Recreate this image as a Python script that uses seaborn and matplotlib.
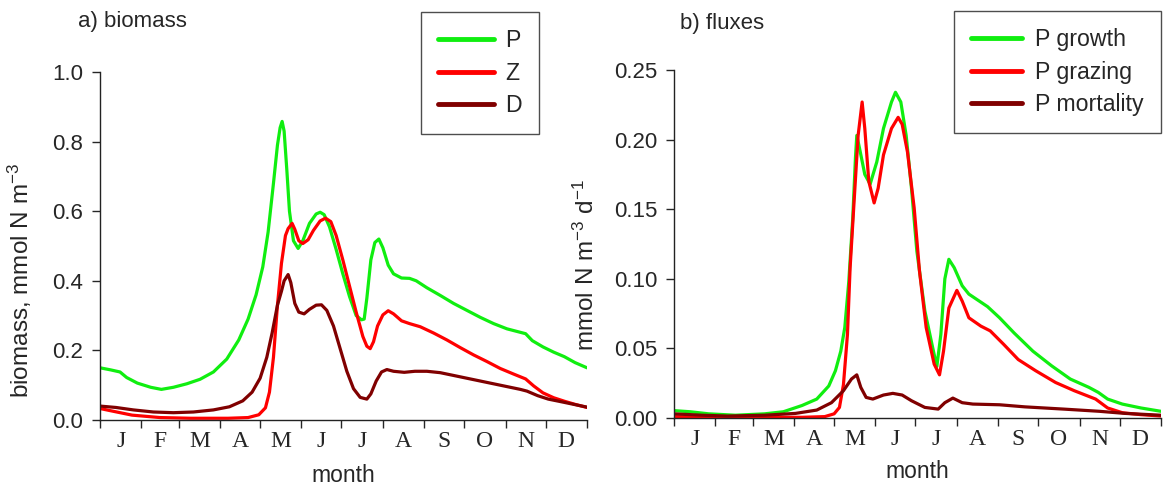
import numpy as np
import pandas as pd
import matplotlib
matplotlib.use("Agg")
import matplotlib.pyplot as plt
import seaborn as sns

# ---- data (day of year, value) ----
month_labels = ["J", "F", "M", "A", "M", "J", "J", "A", "S", "O", "N", "D"]
month_edges = [0, 31, 59, 90, 120, 151, 181, 212, 243, 273, 304, 334, 365]

# a) biomass, mmol N m-3
p_day = [0, 8, 15, 20, 28, 38, 46, 55, 65, 75, 85, 95, 104, 111, 117, 122, 126, 130, 133, 135,
         136.5, 138, 140, 142, 145, 148.5, 152, 157, 162, 165, 168, 172, 177, 182, 187, 192, 196, 198,
         200, 203, 206, 209, 212, 216, 220, 226, 232, 237, 245, 255, 265, 275, 285, 295, 305, 312,
         319, 324, 332, 340, 348, 356, 365]
p_val = [0.150, 0.144, 0.138, 0.122, 0.106, 0.094, 0.088, 0.094, 0.104, 0.117, 0.138, 0.175, 0.230,
         0.290, 0.360, 0.440, 0.540, 0.680, 0.790, 0.840, 0.858, 0.830, 0.720, 0.600, 0.515, 0.493,
         0.515, 0.565, 0.592, 0.597, 0.590, 0.555, 0.490, 0.420, 0.355, 0.300, 0.288, 0.290, 0.350,
         0.460, 0.510, 0.520, 0.495, 0.445, 0.420, 0.408, 0.407, 0.400, 0.380, 0.358, 0.335, 0.315,
         0.295, 0.277, 0.262, 0.255, 0.248, 0.228, 0.210, 0.195, 0.182, 0.165, 0.150]

z_day = [0, 10, 24, 45, 68, 96, 111, 119, 124, 127, 130, 133, 136, 139, 141, 144, 146, 149, 152,
         156, 160, 165, 169, 173, 177, 182, 187, 192, 197, 200, 202.5, 205, 208, 212, 216, 220, 226,
         232, 240, 250, 260, 270, 280, 290, 300, 310, 319, 325, 332, 340, 348, 356, 365]
z_val = [0.033, 0.025, 0.014, 0.007, 0.005, 0.005, 0.007, 0.015, 0.035, 0.080, 0.180, 0.330, 0.450,
         0.530, 0.550, 0.565, 0.548, 0.515, 0.507, 0.518, 0.545, 0.572, 0.580, 0.570, 0.530, 0.460,
         0.385, 0.310, 0.240, 0.212, 0.205, 0.225, 0.270, 0.302, 0.314, 0.305, 0.285, 0.277, 0.268,
         0.250, 0.230, 0.208, 0.187, 0.168, 0.148, 0.132, 0.118, 0.098, 0.078, 0.064, 0.054, 0.045,
         0.036]

d_day = [0, 12, 25, 40, 55, 70, 85, 97, 107, 114, 120, 125, 129, 133, 136, 138, 141, 143, 146, 149,
         153, 157, 162, 166, 170, 175, 180, 185, 190, 195, 200, 203, 207, 211, 215, 220, 228, 236,
         245, 255, 265, 275, 285, 295, 305, 315, 320, 328, 336, 345, 355, 365]
d_val = [0.040, 0.036, 0.029, 0.023, 0.021, 0.023, 0.029, 0.038, 0.055, 0.080, 0.120, 0.180, 0.250,
         0.330, 0.370, 0.400, 0.418, 0.395, 0.335, 0.310, 0.305, 0.318, 0.330, 0.331, 0.315, 0.270,
         0.205, 0.140, 0.090, 0.065, 0.060, 0.075, 0.112, 0.138, 0.145, 0.140, 0.137, 0.140, 0.140,
         0.136, 0.128, 0.120, 0.112, 0.104, 0.096, 0.088, 0.083, 0.070, 0.060, 0.053, 0.045, 0.037]

# b) fluxes, mmol N m-3 d-1
gr_day = [0, 12, 26, 46, 68, 82, 96, 107, 116, 121, 125, 128, 131, 134, 136, 137, 139, 143, 147,
          152, 157, 163, 166, 170, 174, 178, 182, 188, 194, 197, 200, 203, 206, 210, 216, 221, 228,
          235, 244, 255, 269, 283, 297, 311, 318, 325, 336, 350, 365]
gr_val = [0.0053, 0.0045, 0.0030, 0.0020, 0.0030, 0.0045, 0.0090, 0.0136, 0.0230, 0.0340, 0.0480,
          0.0650, 0.0980, 0.1440, 0.1870, 0.2030, 0.1940, 0.1750, 0.1680, 0.1840, 0.2080, 0.2270,
          0.2340, 0.2270, 0.2030, 0.1650, 0.1200, 0.0770, 0.0500, 0.0370, 0.0600, 0.1000, 0.1140,
          0.1080, 0.0950, 0.0890, 0.0845, 0.0800, 0.0720, 0.0610, 0.0480, 0.0375, 0.0280, 0.0220,
          0.0184, 0.0136, 0.0100, 0.0072, 0.0048]

gz_day = [0, 40, 96, 113, 120, 124, 127, 130, 132, 135, 138, 141, 143, 146, 150, 153, 157, 163, 168,
          171, 175, 180, 184, 189, 195, 199, 202, 206, 212, 216, 221, 230, 237, 247, 258, 271, 286,
          300, 316, 325, 336, 350, 365]
gz_val = [0.0010, 0.0005, 0.0005, 0.0010, 0.0030, 0.0076, 0.0240, 0.0600, 0.1080, 0.1560, 0.2030,
          0.2270, 0.2080, 0.1700, 0.1545, 0.1650, 0.1890, 0.2080, 0.2160, 0.2110, 0.1910, 0.1510,
          0.1055, 0.0650, 0.0387, 0.0310, 0.0480, 0.0790, 0.0917, 0.0840, 0.0720, 0.0660, 0.0626,
          0.0530, 0.0420, 0.0340, 0.0255, 0.0196, 0.0136, 0.0072, 0.0038, 0.0024, 0.0014]

mo_day = [0, 21, 40, 68, 91, 107, 118, 127, 133, 137, 140, 144, 149, 157, 164, 171, 178, 188, 198,
          203, 209, 216, 224, 244, 263, 292, 319, 338, 365]
mo_val = [0.0030, 0.0020, 0.0014, 0.0020, 0.0033, 0.0057, 0.0110, 0.0196, 0.0280, 0.0310, 0.0220,
          0.0148, 0.0136, 0.0165, 0.0177, 0.0165, 0.0124, 0.0076, 0.0064, 0.0110, 0.0143, 0.0110,
          0.0100, 0.0095, 0.0080, 0.0064, 0.0048, 0.0033, 0.0020]

GREEN, RED, DARK = "#10ee10", "#ff0000", "#800000"

sns.set_style("ticks")
plt.rcParams["font.family"] = ["Liberation Sans", "DejaVu Sans"]
plt.rcParams["mathtext.default"] = "regular"

fig = plt.figure(figsize=(11.63, 4.88), dpi=100)
ax1 = fig.add_axes([100 / 1163, 1 - 420 / 488, 487 / 1163, 348 / 488])
ax2 = fig.add_axes([674 / 1163, 1 - 418 / 488, 487 / 1163, 348 / 488])

series_a = [(p_day, p_val, GREEN, "P"), (z_day, z_val, RED, "Z"), (d_day, d_val, DARK, "D")]
series_b = [(gr_day, gr_val, GREEN, "P growth"), (gz_day, gz_val, RED, "P grazing"),
            (mo_day, mo_val, DARK, "P mortality")]

for ax, series in [(ax1, series_a), (ax2, series_b)]:
    for days, vals, col, lab in series:
        df = pd.DataFrame({"day": days, "value": vals})
        sns.lineplot(data=df, x="day", y="value", ax=ax, color=col, label=lab,
                     linewidth=2.3, estimator=None, sort=False)

def style_axis(ax):
    sns.despine(ax=ax)
    ax.set_xlim(0, 365)
    ax.set_xticks(month_edges)
    ax.set_xticklabels([])
    mids = [(a + b) / 2 for a, b in zip(month_edges[:-1], month_edges[1:])]
    ax.set_xticks(mids, minor=True)
    ax.set_xticklabels(month_labels, minor=True, family="Liberation Serif", fontsize=17)
    ax.tick_params(axis="x", which="major", length=6, width=1, direction="out")
    ax.tick_params(axis="x", which="minor", length=0, pad=8)
    ax.tick_params(axis="y", length=6, width=1, direction="out", labelsize=16, pad=6)
    for s in ("left", "bottom"):
        ax.spines[s].set_linewidth(1)
        ax.spines[s].set_color("#222222")

style_axis(ax1)
style_axis(ax2)

ax1.set_ylim(0, 1.0)
ax1.set_yticks([0.0, 0.2, 0.4, 0.6, 0.8, 1.0])
ax1.set_yticklabels(["0.0", "0.2", "0.4", "0.6", "0.8", "1.0"])
ax2.set_ylim(0, 0.25)
ax2.set_yticks([0.0, 0.05, 0.10, 0.15, 0.20, 0.25])
ax2.set_yticklabels(["0.00", "0.05", "0.10", "0.15", "0.20", "0.25"])

ax1.set_xlabel("month", fontsize=16.5)
ax2.set_xlabel("month", fontsize=16.5)
ax1.xaxis.set_label_coords(0.5, -0.125)
ax2.xaxis.set_label_coords(0.5, -0.12)
ax1.set_ylabel("biomass, mmol N m$^{-3}$", fontsize=17.5)
ax2.set_ylabel("mmol N m$^{-3}$ d$^{-1}$", fontsize=17.5)
ax1.yaxis.set_label_coords(-0.136, 0.40)
ax2.yaxis.set_label_coords(-0.154, 0.44)

fig.text(78 / 1163, 1 - 22 / 488, "a) biomass", fontsize=16, va="center", ha="left")
fig.text(680 / 1163, 1 - 24 / 488, "b) fluxes", fontsize=16, va="center", ha="left")

legend_setup = [(ax1, (421 / 1163, 1 - 12 / 488), 2.4, 0.47),
                (ax2, (954 / 1163, 1 - 11 / 488), 2.2, 0.56)]
for ax, anchor, hl, tp in legend_setup:
    leg = ax.legend(loc="upper left", bbox_to_anchor=anchor, bbox_transform=fig.transFigure,
                    fontsize=16.7, frameon=True, fancybox=False, handlelength=hl,
                    handletextpad=tp, labelspacing=0.4, borderpad=0.75, borderaxespad=0)
    leg.get_frame().set_edgecolor("#222222")
    leg.get_frame().set_linewidth(1)
    for line in leg.get_lines():
        line.set_linewidth(3.5)

fig.savefig("out.png", dpi=100)
